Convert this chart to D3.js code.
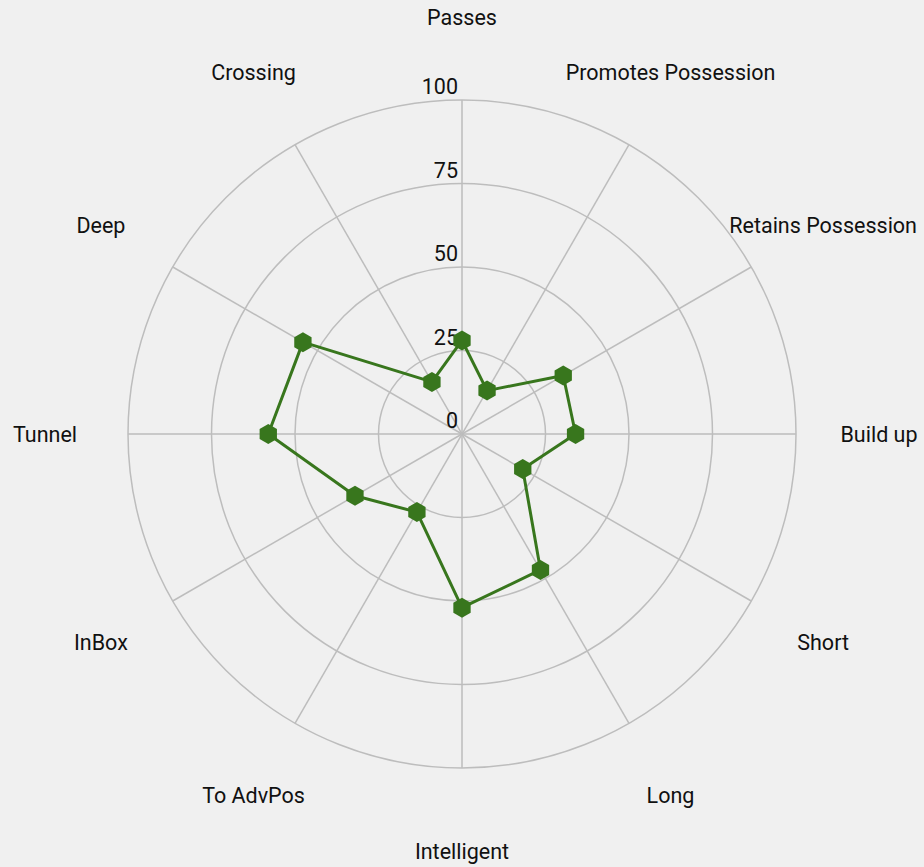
<!DOCTYPE html>
<html>
<head>
<meta charset="utf-8">
<script src="https://cdn.jsdelivr.net/npm/d3@7"></script>
<style>
  html, body { margin: 0; padding: 0; background: #f0f0f0; }
  svg { display: block; font-family: Roboto, "Noto Sans", sans-serif; }
</style>
</head>
<body>
<svg id="chart" width="924" height="867"></svg>
<script>
// axes, clockwise from the top
const categories = ["Passes", "Promotes Possession", "Retains Possession", "Build up", "Short", "Long",
                    "Intelligent", "To AdvPos", "InBox", "Tunnel", "Deep", "Crossing"];
const values = [28, 15, 35, 34, 21, 47, 52, 27, 37, 58, 55, 18];
const ringTicks = [0, 25, 50, 75, 100];

const svg = d3.select("#chart");
const cx = 462, cy = 434, radius = 334, labelRadius = 417;
const fontSize = 21.5;

const r = d3.scaleLinear().domain([0, 100]).range([0, radius]);
const angle = d3.scaleLinear().domain([0, categories.length]).range([0, 2 * Math.PI]);

const g = svg.append("g").attr("transform", "translate(" + cx + "," + cy + ")");

// rings
g.selectAll("circle.ring")
    .data(ringTicks.filter(d => d > 0))
    .enter().append("circle")
    .attr("class", "ring")
    .attr("r", d => r(d))
    .attr("fill", "none")
    .attr("stroke", "#bdbdbd")
    .attr("stroke-width", 1.5);

// spokes
g.selectAll("line.spoke")
    .data(categories)
    .enter().append("line")
    .attr("class", "spoke")
    .attr("x1", 0).attr("y1", 0)
    .attr("x2", (d, i) => Math.sin(angle(i)) * radius)
    .attr("y2", (d, i) => -Math.cos(angle(i)) * radius)
    .attr("stroke", "#bdbdbd")
    .attr("stroke-width", 1.5);

// ring tick labels
g.selectAll("text.tick")
    .data(ringTicks)
    .enter().append("text")
    .attr("class", "tick")
    .attr("x", -4)
    .attr("y", d => -r(d) - 6)
    .attr("text-anchor", "end")
    .attr("font-size", fontSize)
    .attr("fill", "#111")
    .text(d => d);

// category labels
g.selectAll("text.cat")
    .data(categories)
    .enter().append("text")
    .attr("class", "cat")
    .attr("x", (d, i) => Math.sin(angle(i)) * labelRadius)
    .attr("y", (d, i) => -Math.cos(angle(i)) * labelRadius)
    .attr("text-anchor", "middle")
    .attr("dominant-baseline", "central")
    .attr("font-size", fontSize)
    .attr("fill", "#111")
    .text(d => d);

// data line
const line = d3.lineRadial()
    .angle((d, i) => angle(i))
    .radius(d => r(d))
    .curve(d3.curveLinearClosed);

g.append("path")
    .datum(values)
    .attr("d", line)
    .attr("fill", "none")
    .attr("stroke", "#38761d")
    .attr("stroke-width", 3)
    .attr("stroke-linejoin", "round");

// hexagon markers
const hex = d3.symbol().type({
    draw(ctx, size) {
        const s = Math.sqrt(size / (1.5 * Math.sqrt(3)));
        for (let k = 0; k < 6; k++) {
            const a = Math.PI / 3 * k;
            const x = Math.sin(a) * s, y = -Math.cos(a) * s;
            k === 0 ? ctx.moveTo(x, y) : ctx.lineTo(x, y);
        }
        ctx.closePath();
    }
}).size(1.5 * Math.sqrt(3) * 10 * 10);

g.selectAll("path.marker")
    .data(values)
    .enter().append("path")
    .attr("class", "marker")
    .attr("d", hex)
    .attr("transform", (d, i) => "translate(" + Math.sin(angle(i)) * r(d) + "," + (-Math.cos(angle(i)) * r(d)) + ")")
    .attr("fill", "#38761d");
</script>
</body>
</html>
